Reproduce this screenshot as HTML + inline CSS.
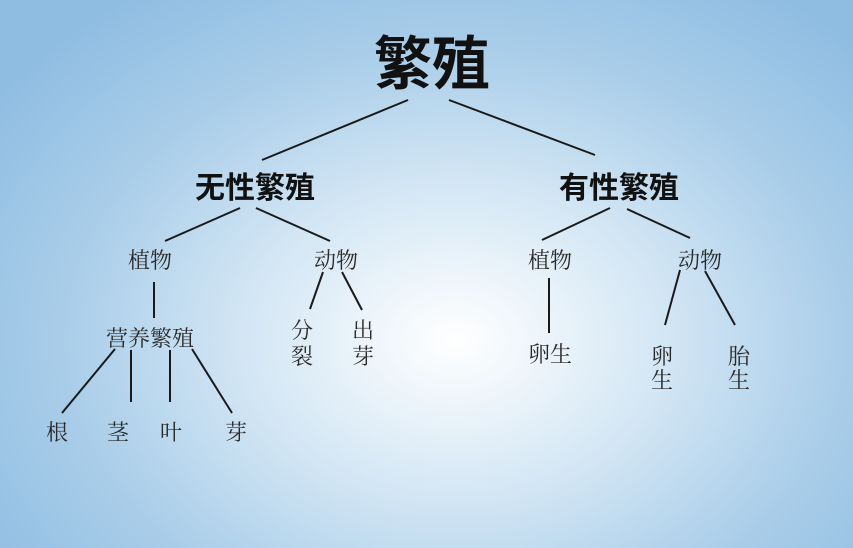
<!DOCTYPE html>
<html><head><meta charset="utf-8"><style>
html,body{margin:0;padding:0;width:853px;height:548px;overflow:hidden}
body{background:radial-gradient(ellipse 560px 420px at 455px 340px,#ffffff 0%,#d6e8f5 35%,#a9cde9 70%,#8fbde2 100%)}
svg{position:absolute;left:0;top:0}
.h{font-family:"Liberation Sans","Noto Sans CJK SC",sans-serif;font-weight:bold;fill:#111}
.s{font-family:"Liberation Serif","Noto Serif CJK SC",serif;fill:#2a2a2a;font-size:22px}
line{stroke:#1a1a1a;stroke-width:2}
</style></head><body>
<svg width="853" height="548" viewBox="0 0 853 548">
<text class="h" x="432" y="84" font-size="58" text-anchor="middle">繁殖</text>
<line x1="408" y1="100" x2="262" y2="160"/>
<line x1="449" y1="100" x2="595" y2="155"/>
<text class="h" x="255" y="198" font-size="30" text-anchor="middle">无性繁殖</text>
<text class="h" x="619" y="198" font-size="30" text-anchor="middle">有性繁殖</text>
<line x1="240" y1="208" x2="165" y2="241"/>
<line x1="256" y1="208" x2="330" y2="241"/>
<line x1="610" y1="208" x2="542" y2="240"/>
<line x1="627" y1="209" x2="690" y2="238"/>
<text class="s" x="150" y="268" text-anchor="middle">植物</text>
<text class="s" x="336" y="268" text-anchor="middle">动物</text>
<text class="s" x="550" y="268" text-anchor="middle">植物</text>
<text class="s" x="700" y="268" text-anchor="middle">动物</text>
<line x1="154" y1="282" x2="154" y2="318"/>
<text class="s" x="150" y="346" text-anchor="middle">营养繁殖</text>
<line x1="115" y1="349" x2="62" y2="413"/>
<line x1="131" y1="350" x2="131" y2="402"/>
<line x1="170" y1="350" x2="170" y2="402"/>
<line x1="192" y1="349" x2="232" y2="413"/>
<text class="s" x="57" y="440" text-anchor="middle">根</text>
<text class="s" x="118" y="440" text-anchor="middle">茎</text>
<text class="s" x="171" y="440" text-anchor="middle">叶</text>
<text class="s" x="236" y="440" text-anchor="middle">芽</text>
<line x1="323" y1="272" x2="310" y2="309"/>
<line x1="342" y1="272" x2="362" y2="310"/>
<text class="s" x="302" y="338" text-anchor="middle">分</text>
<text class="s" x="302" y="364" text-anchor="middle">裂</text>
<text class="s" x="363" y="338" text-anchor="middle">出</text>
<text class="s" x="363" y="364" text-anchor="middle">芽</text>
<line x1="549" y1="278" x2="549" y2="333"/>
<text class="s" x="550" y="362" text-anchor="middle">卵生</text>
<line x1="680" y1="270" x2="665" y2="325"/>
<line x1="705" y1="271" x2="735" y2="325"/>
<text class="s" x="662" y="364" text-anchor="middle">卵</text>
<text class="s" x="662" y="388" text-anchor="middle">生</text>
<text class="s" x="739" y="364" text-anchor="middle">胎</text>
<text class="s" x="739" y="388" text-anchor="middle">生</text>
</svg>
</body></html>
